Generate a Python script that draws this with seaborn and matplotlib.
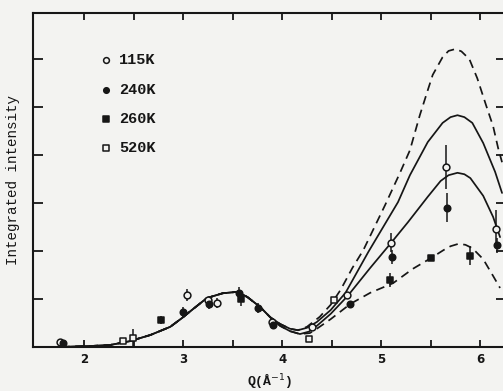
import matplotlib
matplotlib.use("Agg")
import matplotlib.pyplot as plt
import numpy as np
import pandas as pd
import seaborn as sns

# ---- fitted curves: shared low-Q part, then four branches ----
q_common = [1.48, 1.76, 2.06, 2.26, 2.46, 2.67, 2.87, 3.00, 3.07, 3.24, 3.40, 3.55, 3.65, 3.78, 3.88]
i_common = [0.00, 0.00, 0.02, 0.04, 0.12, 0.25, 0.42, 0.62, 0.74, 1.02, 1.12, 1.15, 1.04, 0.83, 0.62]

q_dash_hi = [3.98, 4.08, 4.16, 4.25, 4.38, 4.49, 4.59, 4.71, 4.82, 5.04, 5.19, 5.29, 5.39, 5.47, 5.52,
             5.62, 5.68, 5.75, 5.81, 5.89, 5.97, 6.06, 6.13, 6.18, 6.22]
i_dash_hi = [0.48, 0.38, 0.35, 0.42, 0.63, 0.88, 1.19, 1.65, 2.02, 2.96, 3.63, 4.10, 4.83, 5.35, 5.67,
             6.04, 6.17, 6.21, 6.16, 6.00, 5.60, 5.03, 4.60, 4.15, 3.85]

q_solid_hi = [3.98, 4.08, 4.16, 4.25, 4.35, 4.49, 4.64, 4.87, 5.17, 5.29, 5.47, 5.62, 5.70, 5.77,
              5.84, 5.92, 6.03, 6.15, 6.22]
i_solid_hi = [0.48, 0.38, 0.35, 0.40, 0.52, 0.77, 1.13, 1.98, 3.02, 3.58, 4.27, 4.67, 4.79, 4.83,
              4.79, 4.67, 4.25, 3.65, 3.21]

q_solid_lo = [3.98, 4.08, 4.18, 4.27, 4.35, 4.49, 4.66, 4.89, 5.10, 5.27, 5.47, 5.60, 5.68, 5.77,
              5.84, 5.90, 6.03, 6.13, 6.20]
i_solid_lo = [0.44, 0.33, 0.27, 0.32, 0.44, 0.69, 1.06, 1.65, 2.17, 2.60, 3.13, 3.46, 3.58, 3.63,
              3.60, 3.52, 3.15, 2.71, 2.29]

q_dash_lo = [3.98, 4.08, 4.18, 4.28, 4.35, 4.49, 4.69, 4.89, 5.12, 5.32, 5.50, 5.63, 5.70, 5.78,
             5.85, 5.92, 6.03, 6.13, 6.20]
i_dash_lo = [0.44, 0.33, 0.27, 0.29, 0.38, 0.58, 0.90, 1.13, 1.33, 1.63, 1.85, 2.02, 2.10, 2.15,
             2.13, 2.06, 1.83, 1.48, 1.23]

# ---- measured points (Q, intensity, error) ----
q_115 = [1.76, 3.04, 3.25, 3.34, 3.90, 4.30, 4.65, 5.10, 5.65, 6.16]
i_115 = [0.10, 1.08, 0.98, 0.92, 0.52, 0.42, 1.08, 2.17, 3.75, 2.46]
e_115 = [0.00, 0.12, 0.00, 0.10, 0.00, 0.00, 0.00, 0.20, 0.45, 0.40]

q_240 = [1.79, 3.00, 3.26, 3.56, 3.76, 3.91, 4.69, 5.11, 5.66, 6.17]
i_240 = [0.08, 0.73, 0.90, 1.12, 0.81, 0.46, 0.90, 1.88, 2.90, 2.12]
e_240 = [0.00, 0.10, 0.10, 0.12, 0.10, 0.00, 0.00, 0.15, 0.30, 0.16]

q_260 = [2.78, 3.58, 5.09, 5.50, 5.90]
i_260 = [0.56, 1.00, 1.40, 1.85, 1.90]
e_260 = [0.08, 0.15, 0.15, 0.00, 0.20]

q_520 = [2.39, 2.49, 4.27, 4.52]
i_520 = [0.12, 0.19, 0.17, 0.98]
e_520 = [0.00, 0.18, 0.00, 0.00]

temperatures = ["115K", "240K", "260K", "520K"]
x_ticks = [2, 3, 4, 5, 6]
x_minor = [2.5, 3.5, 4.5, 5.5]
y_ticks = [1, 2, 3, 4, 5, 6]

ink = "#161616"
paper = "#f3f3f1"

sns.set_theme(style="ticks")
plt.rcParams["font.family"] = ["Liberation Mono", "DejaVu Sans Mono"]
plt.rcParams["lines.dashed_pattern"] = (5.0, 3.2)

fig = plt.figure(figsize=(5.03, 3.91), dpi=100, facecolor=paper)
ax = fig.add_axes([33 / 503, 1 - 347 / 391, (506 - 33) / 503, (347 - 13) / 391])
ax.set_facecolor(paper)

curves = [
    (q_dash_hi, i_dash_hi, "--"),
    (q_dash_lo, i_dash_lo, "--"),
    (q_solid_hi, i_solid_hi, "-"),
    (q_solid_lo, i_solid_lo, "-"),
]
for qb, ib, ls in curves:
    df = pd.DataFrame({"Q": q_common + qb, "I": i_common + ib})
    sns.lineplot(data=df, x="Q", y="I", ax=ax, color=ink, lw=1.25, ls=ls,
                 sort=False, estimator=None, legend=False)

series = [
    (temperatures[0], q_115, i_115, e_115, "o", paper, 24),
    (temperatures[1], q_240, i_240, e_240, "o", ink, 22),
    (temperatures[2], q_260, i_260, e_260, "s", ink, 22),
    (temperatures[3], q_520, i_520, e_520, "s", paper, 20),
]
for name, qs, vals, errs, mk, fc, size in series:
    ax.errorbar(qs, vals, yerr=errs, fmt="none", ecolor=ink, elinewidth=1.1, capsize=0, zorder=3)
    pts = pd.DataFrame({"Q": qs, "I": vals})
    sns.scatterplot(data=pts, x="Q", y="I", ax=ax, marker=mk, s=size, color=fc,
                    edgecolor=ink, linewidth=1.1, label=name, zorder=4)

ax.set_xlim(1.485, 6.26)
ax.set_ylim(0, 6.96)
ax.set_xticks(x_ticks)
ax.set_xticks(x_minor, minor=True)
ax.set_yticks(y_ticks)
ax.set_xticklabels([str(t) for t in x_ticks], fontsize=8.5, fontweight="bold",
                   family=["DejaVu Sans"], color=ink)
ax.set_yticklabels([])
ax.tick_params(axis="both", which="both", direction="in", top=True, right=True,
               color=ink, width=1.3, pad=4)
ax.tick_params(axis="x", which="both", length=5)
ax.tick_params(axis="y", which="major", length=7)

for side in ax.spines.values():
    side.set_linewidth(1.5)
    side.set_color(ink)

ax.set_xlabel("Q(Å$^{-1}$)", fontsize=9.5, fontweight="bold", color=ink, labelpad=4)
ax.set_ylabel("Integrated intensity", fontsize=10.3, color=ink, labelpad=5)

leg = ax.legend(loc="upper left", bbox_to_anchor=(0.128, 0.902), frameon=False,
                handlelength=0.6, handletextpad=0.55, labelspacing=1.0, borderpad=0,
                markerscale=0.85,
                prop={"family": ["Liberation Mono"], "weight": "bold", "size": 11})
for t in leg.get_texts():
    t.set_color(ink)

fig.savefig("out.png", dpi=100, facecolor=paper)
